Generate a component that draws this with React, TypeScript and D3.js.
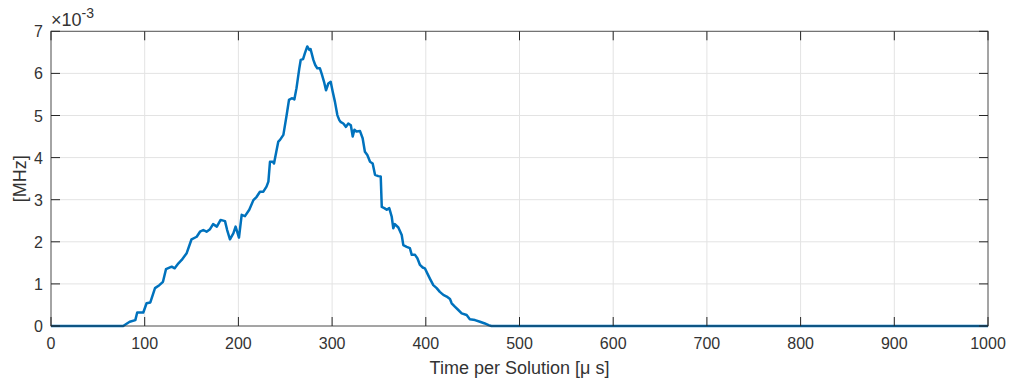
import React from "react";
import * as d3 from "d3";

const timeUs = [0, 77, 84, 90, 92, 98.5, 102, 106, 111, 115.6, 119.5, 122.7, 128.8, 132, 136, 139.5, 144.8, 150, 155.5, 159, 162.5, 166, 169.7, 173, 177, 181, 185.7, 188, 191, 194.6, 197, 200.6, 203.5, 207, 211.6, 216, 219.5, 223, 226.6, 230, 232, 233.7, 236.6, 238, 240.8, 242.6, 244.4, 248, 251.5, 254, 257, 259.7, 262, 265, 266.5, 269, 271, 273.5, 275.7, 277, 280, 282, 284.2, 287, 289, 291.4, 293.5, 296, 298.5, 300.6, 303, 305.6, 307.7, 309, 312, 314.8, 317.3, 320, 322, 323.8, 326, 329.8, 332.6, 335, 337.6, 340.5, 343.3, 345.8, 349.3, 351.9, 353, 355.7, 358.3, 361, 363.6, 365.3, 367, 370.7, 374.3, 376, 379.6, 383, 385, 388.5, 391, 393.8, 396.7, 399, 401.6, 404.5, 408, 411.6, 415, 418.7, 422.3, 425.8, 427.6, 431, 434.7, 438.3, 443.6, 447, 452.5, 457.8, 463, 467, 470, 1000];

// values in units of 1e-3 MHz
const valueMilliMHz = [0, 0, 0.1, 0.14, 0.32, 0.32, 0.54, 0.56, 0.9, 0.97, 1.05, 1.35, 1.41, 1.37, 1.49, 1.57, 1.73, 2.06, 2.12, 2.24, 2.28, 2.24, 2.3, 2.42, 2.36, 2.52, 2.49, 2.28, 2.06, 2.2, 2.36, 2.1, 2.64, 2.61, 2.76, 2.99, 3.07, 3.19, 3.19, 3.31, 3.43, 3.9, 3.9, 3.86, 4.18, 4.38, 4.42, 4.54, 5.01, 5.37, 5.41, 5.38, 5.65, 6.12, 6.32, 6.34, 6.48, 6.64, 6.56, 6.58, 6.32, 6.2, 6.12, 6.12, 5.98, 5.8, 5.6, 5.76, 5.8, 5.57, 5.33, 5.01, 4.89, 4.85, 4.81, 4.73, 4.81, 4.77, 4.5, 4.66, 4.62, 4.63, 4.46, 4.14, 4.06, 3.9, 3.86, 3.59, 3.56, 3.55, 2.83, 2.8, 2.76, 2.8, 2.6, 2.32, 2.42, 2.34, 2.16, 1.92, 1.88, 1.85, 1.69, 1.69, 1.61, 1.45, 1.39, 1.37, 1.25, 1.12, 0.97, 0.9, 0.81, 0.74, 0.7, 0.64, 0.54, 0.46, 0.38, 0.3, 0.26, 0.16, 0.14, 0.1, 0.06, 0.02, 0, 0];

const xTicks = [0, 100, 200, 300, 400, 500, 600, 700, 800, 900, 1000];
const yTicks = [0, 1, 2, 3, 4, 5, 6, 7];
const xLabel = "Time per Solution [\u03bc s]";
const yLabel = "[MHz]";
const exponent = "-3";

export default function App() {
  const W = 1011, H = 379;
  const left = 51, right = 988, top = 31.3, bottom = 326;
  const x = d3.scaleLinear().domain([0, 1000]).range([left, right]);
  const y = d3.scaleLinear().domain([0, 7]).range([bottom, top]);
  const pts = timeUs.map((t, i) => [t, valueMilliMHz[i]] as [number, number]);
  const line = d3.line<[number, number]>().x(d => x(d[0])).y(d => y(d[1]))(pts) || "";
  const font = "'Liberation Sans', Arial, Helvetica, sans-serif";
  const axisColor = "#262626";
  const textColor = "#333333";
  const tickLen = 9;
  return (
    <svg width={W} height={H} style={{ position: "absolute", left: 0, top: 0, background: "#fff" }} fontFamily={font}>
      <rect x={0} y={0} width={W} height={H} fill="#fff" />
      {xTicks.map(t => (
        <line key={"gx" + t} x1={x(t)} x2={x(t)} y1={top} y2={bottom} stroke="#e3e3e3" strokeWidth={1} />
      ))}
      {yTicks.map(t => (
        <line key={"gy" + t} x1={left} x2={right} y1={y(t)} y2={y(t)} stroke="#e3e3e3" strokeWidth={1} />
      ))}
      <path d={line} fill="none" stroke="#0072BD" strokeWidth={2.5} strokeLinejoin="round" />
      <rect x={left} y={top} width={right - left} height={bottom - top} fill="none" stroke={axisColor} strokeWidth={1} strokeOpacity={0.75} />
      {xTicks.map(t => (
        <g key={"tx" + t}>
          <line x1={x(t)} x2={x(t)} y1={bottom} y2={bottom - tickLen} stroke={axisColor} />
          <line x1={x(t)} x2={x(t)} y1={top} y2={top + tickLen} stroke={axisColor} />
          <text x={x(t)} y={bottom + 23} textAnchor="middle" fontSize={16} fill={textColor}>{t}</text>
        </g>
      ))}
      {yTicks.map(t => (
        <g key={"ty" + t}>
          <line x1={left} x2={left + tickLen} y1={y(t)} y2={y(t)} stroke={axisColor} />
          <line x1={right} x2={right - tickLen} y1={y(t)} y2={y(t)} stroke={axisColor} />
          <text x={left - 8} y={y(t) + 6} textAnchor="end" fontSize={16} fill={textColor}>{t}</text>
        </g>
      ))}
      <text x={51} y={26} fontSize={18} fill={textColor}>
        {"\u00d710"}<tspan dy={-8} fontSize={14}>{exponent}</tspan>
      </text>
      <text x={(left + right) / 2} y={374} textAnchor="middle" fontSize={18} fill={textColor}>{xLabel}</text>
      <text transform={`translate(26,${(top + bottom) / 2}) rotate(-90)`} textAnchor="middle" fontSize={18} fill={textColor}>{yLabel}</text>
    </svg>
  );
}
